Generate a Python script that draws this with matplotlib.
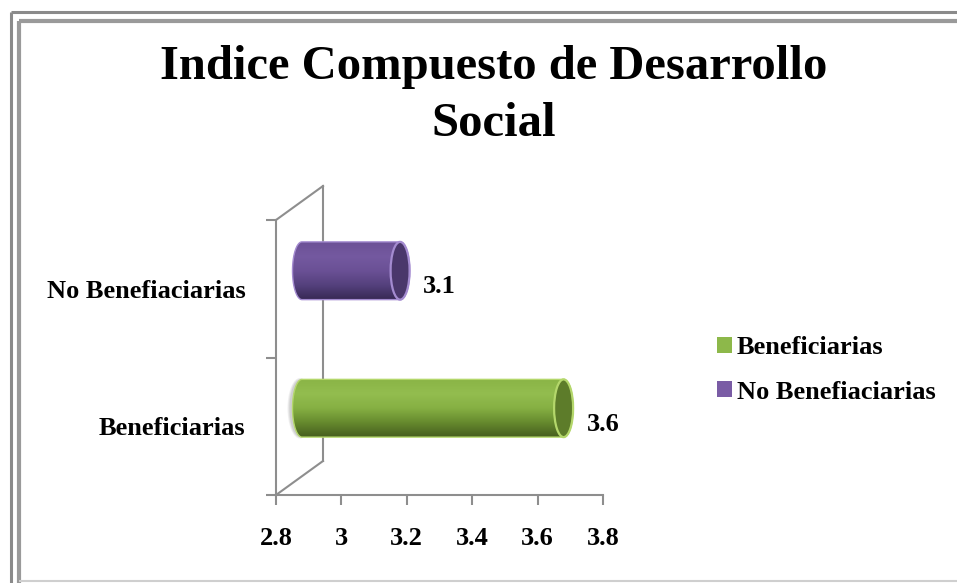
import numpy as np
import matplotlib
matplotlib.use("Agg")
import matplotlib.pyplot as plt
from matplotlib.patches import Polygon, Ellipse, Patch
from matplotlib.lines import Line2D
from matplotlib.colors import LinearSegmentedColormap

# data
title = "Indice Compuesto de Desarrollo\nSocial"
categories = ["Beneficiarias", "No Benefiaciarias"]
values = [3.6, 3.1]
value_labels = ["3.6", "3.1"]
x_ticks = [2.8, 3.0, 3.2, 3.4, 3.6, 3.8]
x_tick_labels = ["2.8", "3", "3.2", "3.4", "3.6", "3.8"]

# body gradient (bottom -> top), cap face, cap edge, legend swatch
styles = [
    (["#465e1e", "#668a2e", "#86b043", "#93bd4f", "#8ab446"], "#5d7c2a", "#b4d76b", "#8db84a"),
    (["#372853", "#54407c", "#6a5095", "#7459a0", "#6c5196"], "#4a376b", "#a48bd0", "#7a5ca5"),
]
AXIS_GREY = "#8e8e8e"
FONT = "Liberation Serif"

W, H, DPI = 957, 583, 100
fig = plt.figure(figsize=(W / DPI, H / DPI), dpi=DPI)
fig.patch.set_facecolor("white")

ax_box = (276, 88, 327, 275)  # left, bottom, width, height in px
ax = fig.add_axes([ax_box[0] / W, ax_box[1] / H, ax_box[2] / W, ax_box[3] / H])
xmin, xmax = 2.8, 3.8
ymin, ymax = -0.5, len(categories) - 0.5
px_x = (xmax - xmin) / ax_box[2]
px_y = (ymax - ymin) / ax_box[3]

# back wall of the 3-D box
wx, wy = 47 * px_x, 34 * px_y
wall = dict(color=AXIS_GREY, lw=1.5, clip_on=False, zorder=1)
ax.plot([xmin, xmin + wx], [ymax, ymax + wy], **wall)
ax.plot([xmin, xmin + wx], [ymin, ymin + wy], **wall)
ax.plot([xmin + wx, xmin + wx], [ymin + wy, ymax + wy], **wall)


def cylinder(value, yc, body_cols, cap_face, cap_edge, shadow=False):
    dx, dy = 26 * px_x, 18 * px_y
    h = 0.42
    rx = 9.5 * px_x
    xs, xe = xmin + dx, value + dx
    y0 = yc + dy
    t1 = np.linspace(np.pi / 2, 3 * np.pi / 2, 60)
    t2 = np.linspace(-np.pi / 2, np.pi / 2, 60)
    left = np.column_stack([xs + rx * np.cos(t1), y0 + h / 2 * np.sin(t1)])
    right = np.column_stack([xe + rx * np.cos(t2), y0 + h / 2 * np.sin(t2)])
    outline = np.vstack([left, right])

    if shadow:
        for k, a in enumerate([0.10, 0.12, 0.15]):
            ax.add_patch(Ellipse((xs - 2 * px_x, y0), 2 * rx + (6 - 2 * k) * px_x, h * (1.05 - 0.03 * k),
                                 facecolor="#707070", edgecolor="none", alpha=a, zorder=1.5, clip_on=False))

    poly = Polygon(outline, closed=True, facecolor="none", edgecolor=cap_edge,
                   lw=1.0, zorder=3, clip_on=False)
    ax.add_patch(poly)
    grad = np.linspace(0, 1, 256).reshape(-1, 1)
    cmap = LinearSegmentedColormap.from_list("body", body_cols)
    im = ax.imshow(grad, cmap=cmap, origin="lower", aspect="auto", interpolation="bilinear",
                   extent=[xs - rx, xe + rx, y0 - h / 2, y0 + h / 2], zorder=2)
    im.set_clip_path(poly)
    ax.add_patch(Ellipse((xe, y0), 2 * rx, h, facecolor=cap_face, edgecolor=cap_edge,
                         lw=1.6, zorder=4, clip_on=False))


for i, (v, st) in enumerate(zip(values, styles)):
    cylinder(v, i, st[0], st[1], st[2], shadow=(i == 0))

label_font = dict(family=FONT, weight="bold", size=19)
for i, (v, lab) in enumerate(zip(values, value_labels)):
    ax.annotate(lab, xy=(v, i), xytext=(49, 2), textcoords="offset pixels",
                ha="left", va="center", **label_font)

ax.set_xlim(xmin, xmax)
ax.set_ylim(ymin, ymax)

for s in ["top", "right"]:
    ax.spines[s].set_visible(False)
for s in ["left", "bottom"]:
    ax.spines[s].set_color(AXIS_GREY)
    ax.spines[s].set_linewidth(1.5)

ax.set_xticks(x_ticks)
ax.set_xticklabels(x_tick_labels, **label_font)
ax.tick_params(axis="x", length=7, width=1.5, color=AXIS_GREY, pad=16)
ax.set_yticks(np.arange(len(categories) + 1) - 0.5)
ax.set_yticklabels([])
ax.tick_params(axis="y", which="major", length=7, width=1.5, color=AXIS_GREY)
ax.set_yticks(np.arange(len(categories)), minor=True)
ax.set_yticklabels(categories, minor=True, **label_font)
ax.tick_params(axis="y", which="minor", length=0, pad=22)
for lab in ax.get_yticklabels(minor=True):
    lab.set_va("center_baseline")

fig.text(494 / W, 1 - 45 / H, title, ha="center", va="top", family=FONT,
         weight="bold", size=35, linespacing=1.38)

handles = [Patch(facecolor=st[3], edgecolor="none") for st in styles]
fig.legend(handles, categories, loc="center left", bbox_to_anchor=(717 / W, 1 - 370 / H),
           frameon=False, handlelength=0.57, handleheight=0.57, handletextpad=0.19,
           labelspacing=0.8, borderaxespad=0, borderpad=0, prop=label_font)

# chart frame (partly cropped in the reference)
def fline(xs, ys, color, lw):
    fig.add_artist(Line2D([x / W for x in xs], [1 - y / H for y in ys],
                          transform=fig.transFigure, color=color, lw=lw, solid_capstyle="butt"))

fline([10.5, W], [11.5, 11.5], "#8a8a8a", 2.2)
fline([10.5, 10.5], [11.5, H], "#8a8a8a", 2.2)
fline([19, W], [20.5, 20.5], "#9a9a9a", 3.0)
fline([19, 19], [20.5, H], "#9a9a9a", 3.0)
fline([19, W], [580.5, 580.5], "#cfcfcf", 1.5)

fig.savefig("out.png", dpi=DPI)
